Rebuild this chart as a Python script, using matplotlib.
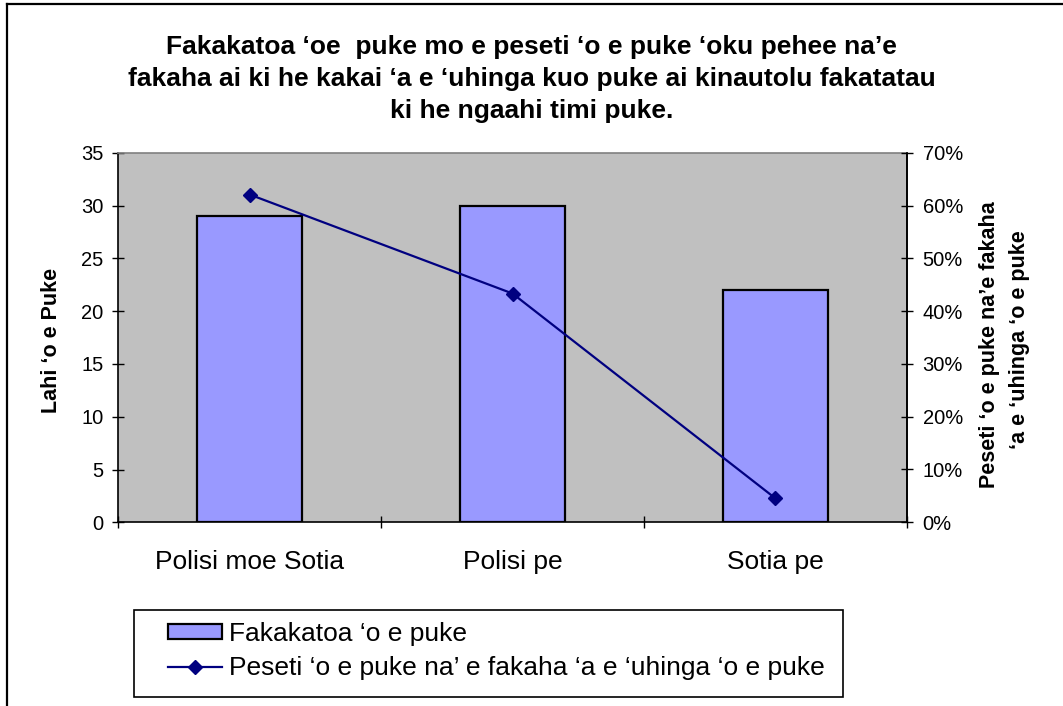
import matplotlib
matplotlib.use("Agg")
import matplotlib.pyplot as plt
from matplotlib.lines import Line2D
from matplotlib.patches import Patch, Rectangle
from matplotlib.ticker import FuncFormatter

categories = ["Polisi moe Sotia", "Polisi pe", "Sotia pe"]
total_games = [29, 30, 22]
pct_won = [0.6207, 0.4333, 0.0455]
left_ticks = [0, 5, 10, 15, 20, 25, 30, 35]
right_ticks = [0, 0.1, 0.2, 0.3, 0.4, 0.5, 0.6, 0.7]
title_lines = ["Fakakatoa \u2018oe  puke mo e peseti \u2018o e puke \u2018oku pehee na\u2019e",
               "fakaha ai ki he kakai \u2018a e \u2018uhinga kuo puke ai kinautolu fakatatau",
               "ki he ngaahi timi puke."]
left_label = "Lahi \u2018o e Puke"
right_label_lines = ["Peseti \u2018o e puke na\u2019e fakaha", "\u2018a e \u2018uhinga \u2018o e puke"]
legend_labels = ["Fakakatoa \u2018o e puke", "Peseti \u2018o e puke na\u2019 e fakaha \u2018a e \u2018uhinga \u2018o e puke"]

plt.rcParams['font.family'] = ['Liberation Sans', 'DejaVu Sans']

W, H = 1063, 706
fig = plt.figure(figsize=(W / 100, H / 100), dpi=100)
fig.patch.set_facecolor("white")

def fx(px):
    return px / W

def fy(py):
    return 1 - py / H

ax_l, ax_r, ax_t, ax_b = 118.3, 906.7, 152.7, 522.3
ax = fig.add_axes([fx(ax_l), fy(ax_b), fx(ax_r - ax_l), (ax_b - ax_t) / H])
ax.set_facecolor("#C0C0C0")

x = list(range(len(categories)))
bars = ax.bar(x, total_games, width=0.4, color="#9999FF", edgecolor="black", linewidth=1.6, zorder=2)
ax.set_xlim(-0.5, len(categories) - 0.5)
ax.set_ylim(0, 35)
ax.set_yticks(left_ticks)
ax.tick_params(axis='y', direction='inout', length=9, width=1, labelsize=14.5, pad=6)
ax.set_xticks([i - 0.5 for i in range(len(categories) + 1)])
ax.set_xticklabels([])
ax.tick_params(axis='x', direction='inout', length=9, width=1)
ax.set_xticks(x, minor=True)
ax.set_xticklabels(categories, minor=True, fontsize=19)
ax.tick_params(axis='x', which='minor', length=0, pad=20)

for s in ["left", "bottom", "right"]:
    ax.spines[s].set_color("black")
    ax.spines[s].set_linewidth(1.2)
ax.spines["top"].set_color("#808080")
ax.spines["top"].set_linewidth(1.2)

ax2 = ax.twinx()
line, = ax2.plot(x, pct_won, color="#000080", linewidth=1.6, marker="D", markersize=7,
                 markerfacecolor="#000080", markeredgecolor="#000080", zorder=3)
ax2.set_ylim(0, 0.7)
ax2.set_yticks(right_ticks)
ax2.yaxis.set_major_formatter(FuncFormatter(lambda v, p: f"{v * 100:.0f}%"))
ax2.tick_params(axis='y', direction='inout', length=9, width=1, labelsize=14.5, pad=7)
ax2.spines["right"].set_color("black")
ax2.spines["right"].set_linewidth(1.2)
ax2.spines["top"].set_visible(False)
ax2.spines["left"].set_visible(False)
ax2.spines["bottom"].set_visible(False)

# Axis titles
fig.text(fx(52), fy(340), left_label, rotation=90, ha="center", va="center",
         fontsize=15.5, fontweight="bold")
fig.text(fx(990), fy(345), right_label_lines[0], rotation=90, ha="center", va="center",
         fontsize=15.5, fontweight="bold")
fig.text(fx(1020), fy(340), right_label_lines[1], rotation=90, ha="center", va="center",
         fontsize=15.5, fontweight="bold")

# Title
for i, t in enumerate(title_lines):
    fig.text(0.5, fy(54 + 32 * i), t, ha="center", va="baseline", fontsize=19, fontweight="bold")

# Legend
handles = [Patch(facecolor="#9999FF", edgecolor="black", linewidth=1.6),
           Line2D([0], [0], color="#000080", linewidth=1.6, marker="D", markersize=7,
                  markerfacecolor="#000080", markeredgecolor="#000080")]
leg = fig.legend(handles, legend_labels, loc="center left",
                 bbox_to_anchor=(fx(168), fy(651)), bbox_transform=fig.transFigure,
                 frameon=False, fontsize=19, borderpad=0, borderaxespad=0,
                 handlelength=2.05, handleheight=0.5, handletextpad=0.27, labelspacing=0.4)
fig.add_artist(Rectangle((fx(134), fy(697)), fx(843 - 134), (697 - 610) / H,
                         transform=fig.transFigure, fill=False, edgecolor="black", linewidth=1.2))

# Chart border (top and left)
fig.add_artist(Line2D([fx(6.5), fx(6.5)], [fy(4), fy(706)], transform=fig.transFigure,
                      color="black", linewidth=1.6))
fig.add_artist(Line2D([fx(6.5), 1], [fy(4), fy(4)], transform=fig.transFigure,
                      color="black", linewidth=1.6))

fig.savefig("out.png", dpi=100)
